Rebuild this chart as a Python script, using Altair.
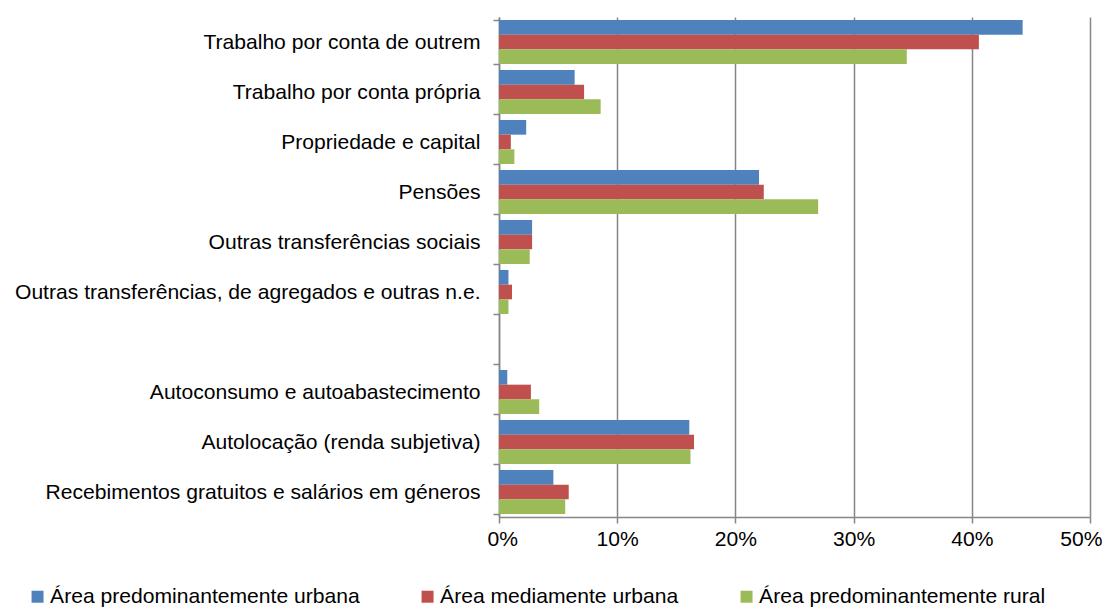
import altair as alt
import pandas as pd

categorias = [
    "Trabalho por conta de outrem",
    "Trabalho por conta própria",
    "Propriedade e capital",
    "Pensões",
    "Outras transferências sociais",
    "Outras transferências, de agregados e outras n.e.",
    " ",
    "Autoconsumo e autoabastecimento",
    "Autolocação (renda subjetiva)",
    "Recebimentos gratuitos e salários em géneros",
]
series = [
    "Área predominantemente urbana",
    "Área mediamente urbana",
    "Área predominantemente rural",
]
cores = ["#4F81BD", "#C0504D", "#9BBB59"]

# values in percent (None = empty spacer row)
urbana = [44.3, 6.4, 2.3, 22.0, 2.8, 0.8, None, 0.7, 16.1, 4.6]
mediamente = [40.6, 7.2, 1.0, 22.4, 2.8, 1.1, None, 2.7, 16.5, 5.9]
rural = [34.5, 8.6, 1.3, 27.0, 2.6, 0.8, None, 3.4, 16.2, 5.6]
ticks_x = [0, 0.1, 0.2, 0.3, 0.4, 0.5]

rows = []
for s, vals in zip(series, [urbana, mediamente, rural]):
    for c, v in zip(categorias, vals):
        if v is not None:
            rows.append({"categoria": c, "serie": s, "valor": v / 100})
df = pd.DataFrame(rows)

grey = "#868686"
fs = 21.1

chart = (
    alt.Chart(df)
    .mark_bar()
    .encode(
        x=alt.X(
            "valor:Q",
            scale=alt.Scale(domain=[0, 0.5], nice=False),
            axis=alt.Axis(
                title=None,
                format=".0%",
                values=ticks_x,
                grid=True,
                gridColor=grey,
                gridWidth=1.5,
                domainColor=grey,
                domainWidth=1.5,
                tickColor=grey,
                tickWidth=1.5,
                tickSize=6,
                labelFlush=True,
                labelFlushOffset=12,
                labelFontSize=fs,
                labelFont="Liberation Sans",
                labelColor="#000000",
                labelPadding=5,
            ),
        ),
        y=alt.Y(
            "categoria:N",
            sort=categorias,
            scale=alt.Scale(domain=categorias, paddingInner=0.12, paddingOuter=0.06),
            axis=alt.Axis(
                title=None,
                grid=False,
                tickBand="extent",
                domainColor=grey,
                domainWidth=1.5,
                tickColor=grey,
                tickWidth=1.5,
                tickSize=6,
                labelFontSize=fs,
                labelFont="Liberation Sans",
                labelColor="#000000",
                labelPadding=13,
                labelLimit=1000,
            ),
        ),
        yOffset=alt.YOffset(
            "serie:N", sort=series, scale=alt.Scale(paddingInner=0, paddingOuter=0)
        ),
        color=alt.Color(
            "serie:N",
            sort=series,
            scale=alt.Scale(domain=series, range=cores),
            legend=alt.Legend(
                title=None,
                orient="none",
                legendX=-472,
                legendY=569,
                direction="horizontal",
                symbolType="square",
                symbolSize=144,
                symbolStrokeWidth=0,
                labelFontSize=fs,
                labelFont="Liberation Sans",
                labelColor="#000000",
                labelOffset=2,
                labelLimit=1000,
                columnPadding=57,
            ),
        ),
    )
    .properties(
        width=591,
        height=500,
        autosize=alt.AutoSizeParams(type="none"),
        padding={"left": 491, "top": 9, "right": 12, "bottom": 92},
    )
    .configure_view(strokeWidth=0)
)

chart.save("out.html", embed_options={"renderer": "svg", "actions": False})
